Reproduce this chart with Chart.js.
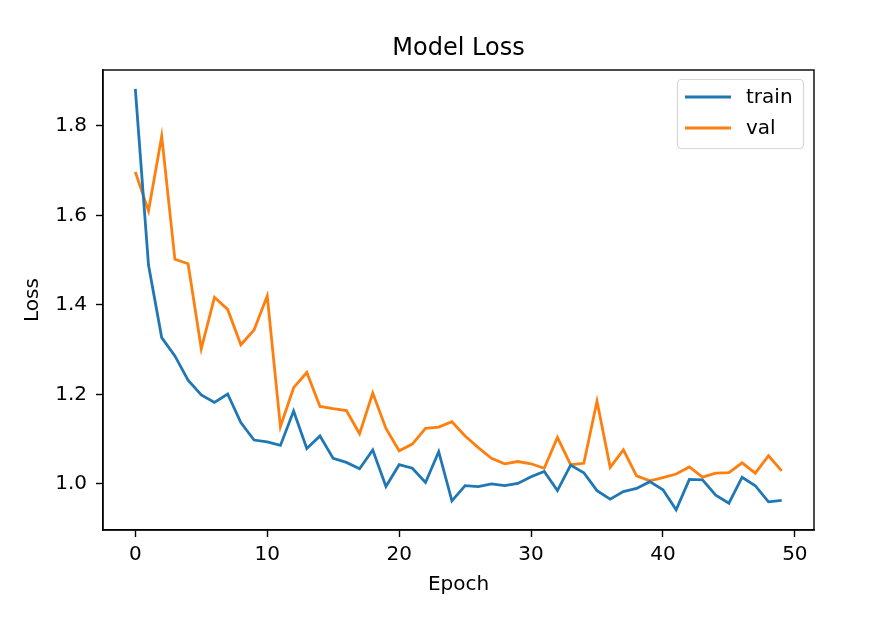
<!DOCTYPE html>
<html>
<head>
<meta charset="utf-8">
<script src="https://cdn.jsdelivr.net/npm/chart.js@4"></script>
<style>
  html, body { margin: 0; padding: 0; background: #fff; }
  #wrap { width: 893px; height: 623px; }
</style>
</head>
<body>
<div id="wrap"><canvas id="c" width="893" height="623"></canvas></div>
<script>
const epochs = [0,1,2,3,4,5,6,7,8,9,10,11,12,13,14,15,16,17,18,19,20,21,22,23,24,25,26,27,28,29,30,31,32,33,34,35,36,37,38,39,40,41,42,43,44,45,46,47,48,49];
const trainLoss = [1.883,1.489,1.327,1.286,1.232,1.199,1.182,1.201,1.137,1.098,1.094,1.086,1.163,1.079,1.107,1.057,1.048,1.034,1.076,0.994,1.043,1.035,1.003,1.072,0.962,0.996,0.994,1.000,0.996,1.001,1.016,1.028,0.985,1.042,1.025,0.985,0.966,0.983,0.990,1.005,0.987,0.942,1.010,1.009,0.975,0.957,1.015,0.996,0.960,0.963];
const valLoss = [1.697,1.610,1.777,1.502,1.492,1.302,1.417,1.390,1.311,1.344,1.420,1.128,1.215,1.249,1.173,1.168,1.164,1.112,1.203,1.124,1.074,1.089,1.124,1.127,1.139,1.107,1.081,1.057,1.045,1.050,1.045,1.035,1.104,1.043,1.046,1.185,1.037,1.076,1.018,1.007,1.014,1.022,1.038,1.015,1.024,1.025,1.047,1.024,1.063,1.029];
const xTicks = [0,10,20,30,40,50];
const yTicks = [1.0,1.2,1.4,1.6,1.8];
const seriesNames = ['train','val'];
const titleText = 'Model Loss';
const xLabel = 'Epoch';
const yLabel = 'Loss';

const FONT = "'DejaVu Sans', sans-serif";
const colors = ['#1f77b4', '#ff7f0e'];

const frame = {
  id: 'frame',
  afterDraw(chart) {
    const {ctx, chartArea: a} = chart;
    ctx.save();
    // spines
    ctx.strokeStyle = '#000';
    ctx.lineWidth = 1.4;
    ctx.strokeRect(a.left, a.top, a.right - a.left, a.bottom - a.top);
    // title
    ctx.fillStyle = '#000';
    ctx.font = '24px ' + FONT;
    ctx.textAlign = 'center';
    ctx.textBaseline = 'alphabetic';
    ctx.fillText(titleText, (a.left + a.right) / 2, 55);
    // legend
    const bx = 677.5, by = 79.5, bw = 126, bh = 69, r = 4;
    ctx.beginPath();
    ctx.moveTo(bx + r, by);
    ctx.lineTo(bx + bw - r, by);
    ctx.arcTo(bx + bw, by, bx + bw, by + r, r);
    ctx.lineTo(bx + bw, by + bh - r);
    ctx.arcTo(bx + bw, by + bh, bx + bw - r, by + bh, r);
    ctx.lineTo(bx + r, by + bh);
    ctx.arcTo(bx, by + bh, bx, by + bh - r, r);
    ctx.lineTo(bx, by + r);
    ctx.arcTo(bx, by, bx + r, by, r);
    ctx.closePath();
    ctx.fillStyle = 'rgba(255,255,255,0.8)';
    ctx.fill();
    ctx.strokeStyle = '#d6d6d6';
    ctx.lineWidth = 1.2;
    ctx.stroke();
    const rows = [97, 128];
    chart.data.datasets.forEach((ds, i) => {
      ctx.strokeStyle = ds.borderColor;
      ctx.lineWidth = 2.8;
      ctx.beginPath();
      ctx.moveTo(685, rows[i]);
      ctx.lineTo(731, rows[i]);
      ctx.stroke();
      ctx.fillStyle = '#000';
      ctx.font = '20px ' + FONT;
      ctx.textAlign = 'left';
      ctx.textBaseline = 'middle';
      ctx.fillText(ds.label, 746, rows[i] + 1);
    });
    ctx.restore();
  }
};

new Chart(document.getElementById('c'), {
  type: 'line',
  data: {
    datasets: [
      { label: seriesNames[0], data: epochs.map((e, i) => ({x: e, y: trainLoss[i]})), borderColor: colors[0], backgroundColor: colors[0], borderWidth: 2.8, pointRadius: 0, tension: 0, fill: false },
      { label: seriesNames[1], data: epochs.map((e, i) => ({x: e, y: valLoss[i]})), borderColor: colors[1], backgroundColor: colors[1], borderWidth: 2.8, pointRadius: 0, tension: 0, fill: false }
    ]
  },
  options: {
    responsive: false,
    animation: false,
    devicePixelRatio: 1,
    layout: { padding: { left: 0, right: 79, top: 70, bottom: 0 } },
    plugins: { legend: { display: false }, title: { display: false }, tooltip: { enabled: false } },
    scales: {
      x: {
        type: 'linear',
        min: -2.45, max: 51.45,
        afterBuildTicks: s => { s.ticks = xTicks.map(v => ({value: v})); },
        afterFit: s => { s.height = 93; },
        grid: { display: true, drawOnChartArea: false, drawTicks: true, tickLength: 7, tickColor: '#000', tickWidth: 1.4 },
        border: { display: true, color: '#000', width: 1.4 },
        ticks: { color: '#000', font: { family: FONT, size: 20 }, padding: 6, maxRotation: 0, callback: v => String(v) },
        title: { display: true, text: xLabel, color: '#000', font: { family: FONT, size: 20 }, padding: { top: 0, bottom: 26 } }
      },
      y: {
        type: 'linear',
        min: 0.897, max: 1.925,
        afterBuildTicks: s => { s.ticks = yTicks.map(v => ({value: v})); },
        afterFit: s => { s.width = 103; },
        grid: { display: true, drawOnChartArea: false, drawTicks: true, tickLength: 7, tickColor: '#000', tickWidth: 1.4 },
        border: { display: true, color: '#000', width: 1.4 },
        ticks: { color: '#000', font: { family: FONT, size: 20 }, padding: 9, callback: v => Number(v).toFixed(1) },
        title: { display: true, text: yLabel, color: '#000', font: { family: FONT, size: 20 }, padding: { top: 21, bottom: 0 } }
      }
    }
  },
  plugins: [frame]
});
</script>
</body>
</html>
